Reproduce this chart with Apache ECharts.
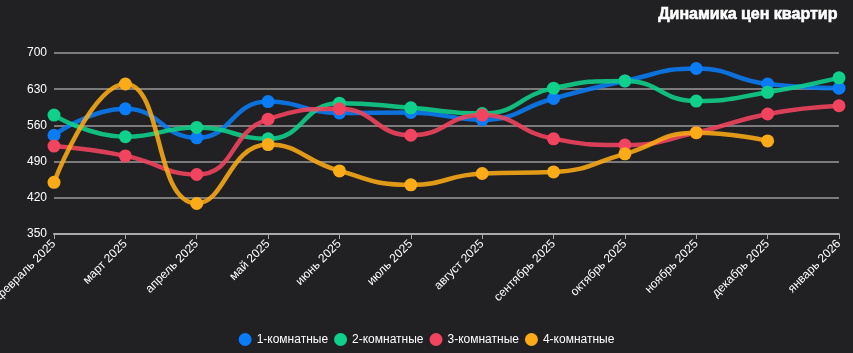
<!DOCTYPE html>
<html>
<head>
<meta charset="utf-8">
<script src="https://cdn.jsdelivr.net/npm/echarts@6/dist/echarts.min.js"></script>
<style>
  html, body { margin: 0; padding: 0; background: #212124; }
  #main { width: 853px; height: 353px; }
</style>
</head>
<body>
<div id="main"></div>
<script>
var months = ['февраль 2025', 'март 2025', 'апрель 2025', 'май 2025', 'июнь 2025', 'июль 2025',
  'август 2025', 'сентябрь 2025', 'октябрь 2025', 'ноябрь 2025', 'декабрь 2025', 'январь 2026'];
var rooms1 = [541, 592, 536, 606, 584, 585, 571, 612, 646, 670, 640, 632];
var rooms2 = [580, 538, 556, 534, 603, 594, 583, 632, 646, 607, 624, 652];
var rooms3 = [520, 501, 465, 572, 592, 541, 580, 534, 522, 546, 582, 598];
var rooms4 = [450, 640, 409, 523, 472, 445, 467, 470, 505, 546, 530, null];
var seriesNames = ['1-комнатные', '2-комнатные', '3-комнатные', '4-комнатные'];
var colors = ['#0a7cf5', '#0fd18b', '#f2445f', '#fbab17'];

var chart = echarts.init(document.getElementById('main'));

function makeSeries(name, data, color) {
  return {
    name: name,
    type: 'line',
    smooth: true,
    data: data,
    symbol: 'circle',
    symbolSize: 13,
    itemStyle: { color: color },
    lineStyle: { width: 4.5, color: color, opacity: 0.88 }
  };
}

var option = {
  backgroundColor: '#212124',
  textStyle: { fontFamily: 'Liberation Sans, Arial, sans-serif' },
  title: {
    text: 'Динамика цен квартир',
    right: 10,
    top: 2,
    textStyle: { color: '#fff', fontSize: 16, fontWeight: 900, textBorderColor: '#fff', textBorderWidth: 0.6 }
  },
  legend: {
    bottom: 2,
    icon: 'circle',
    itemWidth: 13,
    itemHeight: 13,
    itemGap: 6,
    textStyle: { color: '#fff', fontSize: 12 },
    data: seriesNames
  },
  grid: { left: 54, right: 14, top: 53, bottom: 119, outerBoundsMode: 'none' },
  xAxis: {
    type: 'category',
    boundaryGap: false,
    data: months,
    axisLine: { lineStyle: { color: '#aaa', width: 2 } },
    axisTick: { show: true, alignWithLabel: true, lineStyle: { color: '#aaa' } },
    axisLabel: { color: '#fff', fontSize: 12, rotate: 45, interval: 0, margin: 8 }
  },
  yAxis: {
    type: 'value',
    min: 350,
    max: 700,
    interval: 70,
    axisLine: { show: false },
    axisTick: { show: false },
    axisLabel: { color: '#fff', fontSize: 12, margin: 7 },
    splitLine: { lineStyle: { color: '#9a9a9a', width: 1.5 } }
  },
  series: [
    makeSeries(seriesNames[0], rooms1, colors[0]),
    makeSeries(seriesNames[1], rooms2, colors[1]),
    makeSeries(seriesNames[2], rooms3, colors[2]),
    makeSeries(seriesNames[3], rooms4, colors[3])
  ]
};

chart.setOption(option);
</script>
</body>
</html>
